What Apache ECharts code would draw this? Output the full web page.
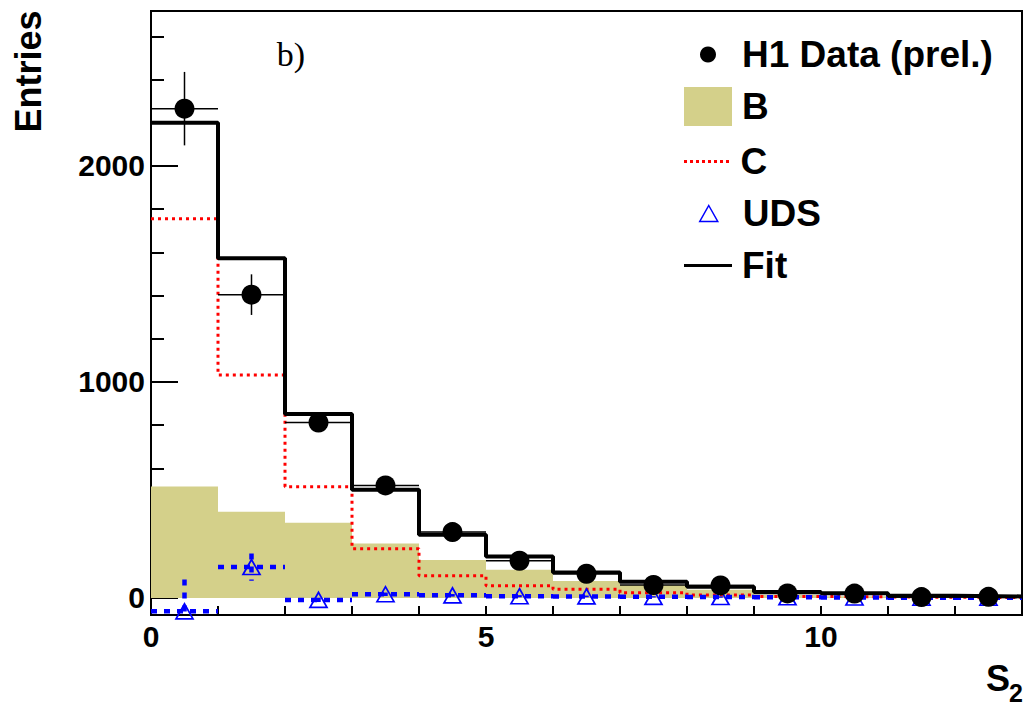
<!DOCTYPE html>
<html>
<head>
<meta charset="utf-8">
<title>S2 distribution</title>
<script src="https://cdn.jsdelivr.net/npm/echarts@6/dist/echarts.min.js"></script>
<style>
  html, body { margin: 0; padding: 0; background: #fff; }
  #main { width: 1026px; height: 706px; }
</style>
</head>
<body>
<div id="main"></div>
<script>
// histogram bins in S2
var binLo  = [0, 1, 2, 3, 4, 5, 6, 7, 8, 9, 10, 11, 12];
var binHi  = [1, 2, 3, 4, 5, 6, 7, 8, 9, 10, 11, 12, 13];
var binMid = [0.5, 1.5, 2.5, 3.5, 4.5, 5.5, 6.5, 7.5, 8.5, 9.5, 10.5, 11.5, 12.5];

// H1 data (prel.) and stat. errors
var dataY   = [2265, 1404, 812, 521, 305, 172, 112, 60, 58, 21, 20, 4, 5];
var dataErr = [170, 94, 35, 25, 18, 14, 11, 9, 8, 6, 5, 4, 3];

// fit components
var fitY = [2200, 1573, 852, 501, 293, 192, 118, 75, 52, 27, 22, 10, 7];
var bY   = [516, 399, 348, 252, 176, 130, 78, 60, 38, 15, 8, 4, 2];
var cY   = [1755, 1032, 515, 228, 103, 56, 40, 24, 14, 7, 5, 3, 2];
var udsY   = [-62, 143, -9, 17, 12, 8, 7, 5, 4, 3, 2, 1, 1];
var udsErr = [147, 63, 10, 8, 6, 5, 4, 3, 3, 2, 2, 1, 1];

// axis ranges
var xRange = [0, 13];
var yRange = [-79, 2717];

var FONT = '"Liberation Sans", Arial, Helvetica, sans-serif';

// step line points: left edge of every bin + right edge of the last one
function stepPoints(vals) {
  var pts = binLo.map(function (x, i) { return [x, vals[i]]; });
  pts.push([binHi[binHi.length - 1], vals[vals.length - 1]]);
  return pts;
}

// horizontal bin-width bar + vertical error bar
function errRender(color, width, dash) {
  return function (params, api) {
    var y = api.value(2);
    var a = api.coord([api.value(0), y]);
    var b = api.coord([api.value(1), y]);
    var up = api.coord([api.value(3), y + api.value(4)]);
    var dn = api.coord([api.value(3), y - api.value(4)]);
    var st = { stroke: color, lineWidth: width, lineDash: dash };
    return {
      type: 'group',
      children: [
        { type: 'line', shape: { x1: a[0], y1: a[1], x2: b[0], y2: b[1] }, style: st },
        { type: 'line', shape: { x1: up[0], y1: up[1], x2: dn[0], y2: dn[1] }, style: st }
      ]
    };
  };
}

function legendItem(name, icon, left, w, h, top, itemStyle) {
  return {
    show: true,
    left: left,
    top: top,
    padding: 0,
    itemWidth: w,
    itemHeight: h,
    symbolKeepAspect: true,
    selectedMode: false,
    textStyle: { fontSize: 37, fontWeight: 'bold', fontFamily: FONT, color: '#000', lineHeight: 36, padding: [0, 0, 0, 5] },
    data: [{ name: name, icon: icon, itemStyle: itemStyle, symbolKeepAspect: true }]
  };
}

var dotted = 'path://M0,0h3v3h-3zM6,0h3v3h-3zM12,0h3v3h-3zM18,0h3v3h-3zM24,0h3v3h-3zM30,0h3v3h-3zM36,0h3v3h-3zM42,0h3v3h-3z';
var tri = 'path://M9,0L18,16L0,16Z';

var chart = echarts.init(document.getElementById('main'), null, { renderer: 'svg' });

var option = {
  animation: false,
  backgroundColor: '#fff',
  grid: {
    left: 151, right: 4, top: 11, bottom: 91,
    show: true, borderColor: '#000', borderWidth: 2, backgroundColor: 'transparent'
  },
  legend: [
    legendItem('H1 Data (prel.)', 'circle', 700, 48, 16, 36, { color: '#000' }),
    legendItem('B', 'rect', 684, 48, 39, 87, { color: '#d4d08a' }),
    legendItem('C', dotted, 684, 48, 3, 143, { color: '#ff0000' }),
    legendItem('UDS', tri, 699, 48, 16, 195, { color: 'rgba(0,0,0,0)', borderColor: '#0000ff', borderWidth: 1.5 }),
    legendItem('Fit', 'rect', 684, 48, 3, 247, { color: '#000' })
  ],
  xAxis: {
    type: 'value',
    min: xRange[0],
    max: xRange[1],
    interval: 1,
    axisLine: { show: true, onZero: false, lineStyle: { color: '#000', width: 2 } },
    axisTick: { show: true, inside: true, length: 9, lineStyle: { color: '#000', width: 2 } },
    splitLine: { show: false },
    axisLabel: {
      color: '#000', fontSize: 30, fontWeight: 'bold', fontFamily: FONT, margin: 6,
      formatter: function (v) { return v % 5 === 0 ? String(v) : ''; }
    }
  },
  yAxis: {
    type: 'value',
    min: yRange[0],
    max: yRange[1],
    splitNumber: 3,
    axisLine: { show: true, onZero: false, lineStyle: { color: '#000', width: 2 } },
    axisTick: { show: true, inside: true, length: 27, lineStyle: { color: '#000', width: 2 } },
    minorTick: { show: true, splitNumber: 5, length: 13, lineStyle: { color: '#000', width: 2 } },
    splitLine: { show: false },
    minorSplitLine: { show: false },
    axisLabel: {
      color: '#000', fontSize: 30, fontWeight: 'bold', fontFamily: FONT, margin: 6,
      showMinLabel: false, showMaxLabel: false,
      formatter: function (v) { return String(v); }
    }
  },
  graphic: [
    { type: 'text', x: 291, y: 54, style: { text: 'b)', font: '34px "Liberation Serif", "Times New Roman", serif', fill: '#000', align: 'center', verticalAlign: 'middle' } },
    { type: 'text', x: 28.5, y: 71.5, rotation: Math.PI / 2, style: { text: 'Entries', font: 'bold 36px ' + FONT, fill: '#000', align: 'center', verticalAlign: 'middle' } },
    // x axis title S_2
    { type: 'text', x: 986, y: 678.5, style: { text: 'S', font: 'bold 36px ' + FONT, fill: '#000', align: 'left', verticalAlign: 'middle' } },
    { type: 'text', x: 1009, y: 693, style: { text: '2', font: 'bold 25px ' + FONT, fill: '#000', align: 'left', verticalAlign: 'middle' } }
  ],
  series: [
    {
      name: 'B',
      type: 'custom',
      z: 1,
      clip: true,
      data: binLo.map(function (x, i) { return [x, binHi[i], bY[i]]; }),
      renderItem: function (params, api) {
        var p0 = api.coord([api.value(0), api.value(2)]);
        var p1 = api.coord([api.value(1), 0]);
        return {
          type: 'rect',
          shape: { x: p0[0], y: p0[1], width: p1[0] - p0[0], height: p1[1] - p0[1] },
          style: { fill: '#d4d08a' }
        };
      }
    },
    {
      name: 'C',
      type: 'line',
      z: 2,
      step: 'end',
      showSymbol: false,
      data: stepPoints(cY),
      lineStyle: { color: '#ff0000', width: 3, type: [3, 4] },
      itemStyle: { color: '#ff0000' }
    },
    {
      name: 'UDS',
      type: 'custom',
      z: 3,
      clip: true,
      data: binLo.map(function (x, i) { return [x, binHi[i], udsY[i], binMid[i], udsErr[i]]; }),
      renderItem: errRender('#0000ff', 4.5, [6, 7])
    },
    {
      name: 'UDS',
      type: 'scatter',
      z: 4,
      symbol: 'triangle',
      symbolSize: [17, 15],
      data: binMid.map(function (x, i) { return [x, udsY[i]]; }),
      itemStyle: { color: 'rgba(0,0,0,0)', borderColor: '#0000ff', borderWidth: 1.7, opacity: 1 }
    },
    {
      name: 'Fit',
      type: 'line',
      z: 5,
      step: 'end',
      showSymbol: false,
      data: stepPoints(fitY),
      lineStyle: { color: '#000', width: 4 },
      itemStyle: { color: '#000' }
    },
    {
      name: 'H1 Data (prel.)',
      type: 'custom',
      z: 6,
      clip: true,
      data: binLo.map(function (x, i) { return [x, binHi[i], dataY[i], binMid[i], dataErr[i]]; }),
      renderItem: errRender('#000', 1.5, null)
    },
    {
      name: 'H1 Data (prel.)',
      type: 'scatter',
      z: 7,
      symbol: 'circle',
      symbolSize: 20,
      data: binMid.map(function (x, i) { return [x, dataY[i]]; }),
      itemStyle: { color: '#000', opacity: 1 }
    }
  ]
};

chart.setOption(option);
</script>
</body>
</html>
